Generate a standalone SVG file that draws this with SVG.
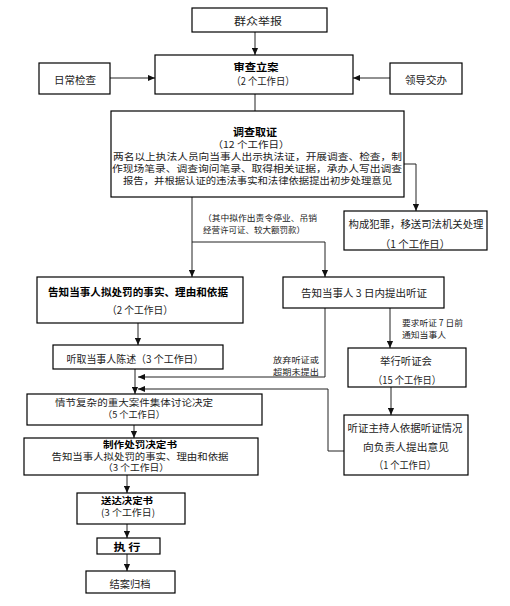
<svg xmlns="http://www.w3.org/2000/svg" width="510" height="606" viewBox="0 0 510 606">
<style>
.box{fill:#fff;stroke:#000;stroke-width:1.2}
.ln{fill:none;stroke:#222;stroke-width:1}
text{font-family:"Noto Sans CJK SC","Noto Sans",sans-serif;fill:#222;font-size:10.5px;text-anchor:middle;dominant-baseline:central}
.b{font-weight:bold;fill:#000}
.s{font-size:8.5px}
.t{font-size:9.5px}
.st{text-anchor:start}
</style>
<defs>
<marker id="ah" viewBox="0 0 8 8" refX="8" refY="4" markerWidth="7" markerHeight="7" markerUnits="userSpaceOnUse" orient="auto">
<path d="M0,0.5 L8,4 L0,7.5 Z" fill="#111"/>
</marker>
</defs>
<rect width="510" height="606" fill="#fff"/>
<g id="connectors">
<path class="ln" d="M255,32 V55" marker-end="url(#ah)"/>
<path class="ln" d="M110,78 H155" marker-end="url(#ah)"/>
<path class="ln" d="M390,78 H353" marker-end="url(#ah)"/>
<path class="ln" d="M255,94 V111"/>
<path class="ln" d="M404,164 H416 V211" marker-end="url(#ah)"/>
<path class="ln" d="M192,197 V277" marker-end="url(#ah)"/>
<path class="ln" d="M192,242 H325 V277" marker-end="url(#ah)"/>
<path class="ln" d="M138,323 V345" marker-end="url(#ah)"/>
<path class="ln" d="M135,369 V394" marker-end="url(#ah)"/>
<path class="ln" d="M325,308 V377 H138" marker-end="url(#ah)"/>
<path class="ln" d="M390,308 V348" marker-end="url(#ah)"/>
<path class="ln" d="M391,387 V415" marker-end="url(#ah)"/>
<path class="ln" d="M344,451 H328 V389 H138" marker-end="url(#ah)"/>
<path class="ln" d="M134,425 V438" marker-end="url(#ah)"/>
<path class="ln" d="M127,475 V493" marker-end="url(#ah)"/>
<path class="ln" d="M127,524 V538" marker-end="url(#ah)"/>
<path class="ln" d="M127,554 V571" marker-end="url(#ah)"/>
<text class="s st" x="203" y="217" textLength="114" lengthAdjust="spacingAndGlyphs">（其中拟作出责令停业、吊销</text>
<text class="s st" x="203" y="229" textLength="102" lengthAdjust="spacingAndGlyphs">经营许可证、较大额罚款）</text>
<text class="s st" x="273" y="359" textLength="46" lengthAdjust="spacingAndGlyphs">放弃听证或</text>
<text class="s st" x="273" y="371" textLength="46" lengthAdjust="spacingAndGlyphs">超期未提出</text>
<text class="s st" x="402" y="322" textLength="61" lengthAdjust="spacingAndGlyphs">要求听证 7 日前</text>
<text class="s st" x="402" y="334" textLength="44" lengthAdjust="spacingAndGlyphs">通知当事人</text>
</g>
<g id="n_report"><rect class="box" x="192" y="8" width="135" height="24"/><text x="258" y="20" textLength="48" lengthAdjust="spacingAndGlyphs">群众举报</text></g>
<g id="n_daily"><rect class="box" x="39" y="63" width="71" height="31"/><text x="75" y="79" textLength="42" lengthAdjust="spacingAndGlyphs">日常检查</text></g>
<g id="n_leader"><rect class="box" x="390" y="63" width="72" height="31"/><text x="426" y="79" textLength="42" lengthAdjust="spacingAndGlyphs">领导交办</text></g>
<g id="n_file"><rect class="box" x="155" y="55" width="198" height="39"/><text class="b" x="256" y="66" textLength="45" lengthAdjust="spacingAndGlyphs">审查立案</text><text x="263" y="80" textLength="63" lengthAdjust="spacingAndGlyphs">（2 个工作日）</text></g>
<g id="n_invest"><rect class="box" x="111" y="111" width="293" height="86"/>
<text class="b" x="255" y="131" textLength="44" lengthAdjust="spacingAndGlyphs">调查取证</text>
<text class="t" x="251" y="143.5" textLength="77" lengthAdjust="spacingAndGlyphs">（12 个工作日）</text>
<text class="t" x="257.5" y="155.5" textLength="289" lengthAdjust="spacingAndGlyphs">两名以上执法人员向当事人出示执法证，开展调查、检查，制</text>
<text class="t" x="257" y="167.5" textLength="290" lengthAdjust="spacingAndGlyphs">作现场笔录、调查询问笔录、取得相关证据，承办人写出调查</text>
<text class="t" x="257.5" y="179.5" textLength="269" lengthAdjust="spacingAndGlyphs">报告，并根据认证的违法事实和法律依据提出初步处理意见</text></g>
<g id="n_crime"><rect class="box" x="344" y="211" width="143" height="39"/><text x="416" y="223" textLength="135" lengthAdjust="spacingAndGlyphs">构成犯罪，移送司法机关处理</text><text x="415" y="243" textLength="70" lengthAdjust="spacingAndGlyphs">（1 个工作日）</text></g>
<g id="n_notify"><rect class="box" x="37" y="277" width="206" height="46"/><text class="b" x="138" y="291" textLength="180" lengthAdjust="spacingAndGlyphs">告知当事人拟处罚的事实、理由和依据</text><text x="140" y="309" textLength="66" lengthAdjust="spacingAndGlyphs">（2 个工作日）</text></g>
<g id="n_hearnotice"><rect class="box" x="283" y="277" width="161" height="31"/><text x="364" y="292" textLength="126" lengthAdjust="spacingAndGlyphs">告知当事人 3 日内提出听证</text></g>
<g id="n_listen"><rect class="box" x="53" y="345" width="170" height="24"/><text x="135" y="358" textLength="137" lengthAdjust="spacingAndGlyphs">听取当事人陈述（3 个工作日）</text></g>
<g id="n_hearing"><rect class="box" x="348" y="348" width="118" height="39"/><text x="406" y="360" textLength="52" lengthAdjust="spacingAndGlyphs">举行听证会</text><text x="407" y="379" textLength="68" lengthAdjust="spacingAndGlyphs">（15 个工作日）</text></g>
<g id="n_host"><rect class="box" x="344" y="415" width="124" height="60"/><text x="405" y="427" textLength="115" lengthAdjust="spacingAndGlyphs">听证主持人依据听证情况</text><text x="406" y="446" textLength="86" lengthAdjust="spacingAndGlyphs">向负责人提出意见</text><text x="405" y="464" textLength="62" lengthAdjust="spacingAndGlyphs">（1 个工作日）</text></g>
<g id="n_complex"><rect class="box" x="27" y="394" width="235" height="31"/><text class="t" x="134" y="402" textLength="158" lengthAdjust="spacingAndGlyphs">情节复杂的重大案件集体讨论决定</text><text class="t" x="134" y="414" textLength="62" lengthAdjust="spacingAndGlyphs">（5 个工作日）</text></g>
<g id="n_decision"><rect class="box" x="24" y="438" width="234" height="37"/><text class="b t" x="140" y="443.5" textLength="74" lengthAdjust="spacingAndGlyphs">制作处罚决定书</text><text class="t" x="140" y="455.5" textLength="177" lengthAdjust="spacingAndGlyphs">告知当事人拟处罚的事实、理由和依据</text><text class="t" x="136" y="467" textLength="66" lengthAdjust="spacingAndGlyphs">（3 个工作日）</text></g>
<g id="n_deliver"><rect class="box" x="77" y="493" width="108" height="31"/><text class="b t" x="127" y="499.5" textLength="52" lengthAdjust="spacingAndGlyphs">送达决定书</text><text class="t" x="128" y="511.5" textLength="54" lengthAdjust="spacingAndGlyphs">(3 个工作日)</text></g>
<g id="n_exec"><rect class="box" x="97" y="538" width="63" height="16"/><text class="b" x="127" y="546" textLength="27" lengthAdjust="spacingAndGlyphs">执 行</text></g>
<g id="n_archive"><rect class="box" x="86" y="571" width="89" height="22"/><text x="130" y="583" textLength="41" lengthAdjust="spacingAndGlyphs">结案归档</text></g>
</svg>
